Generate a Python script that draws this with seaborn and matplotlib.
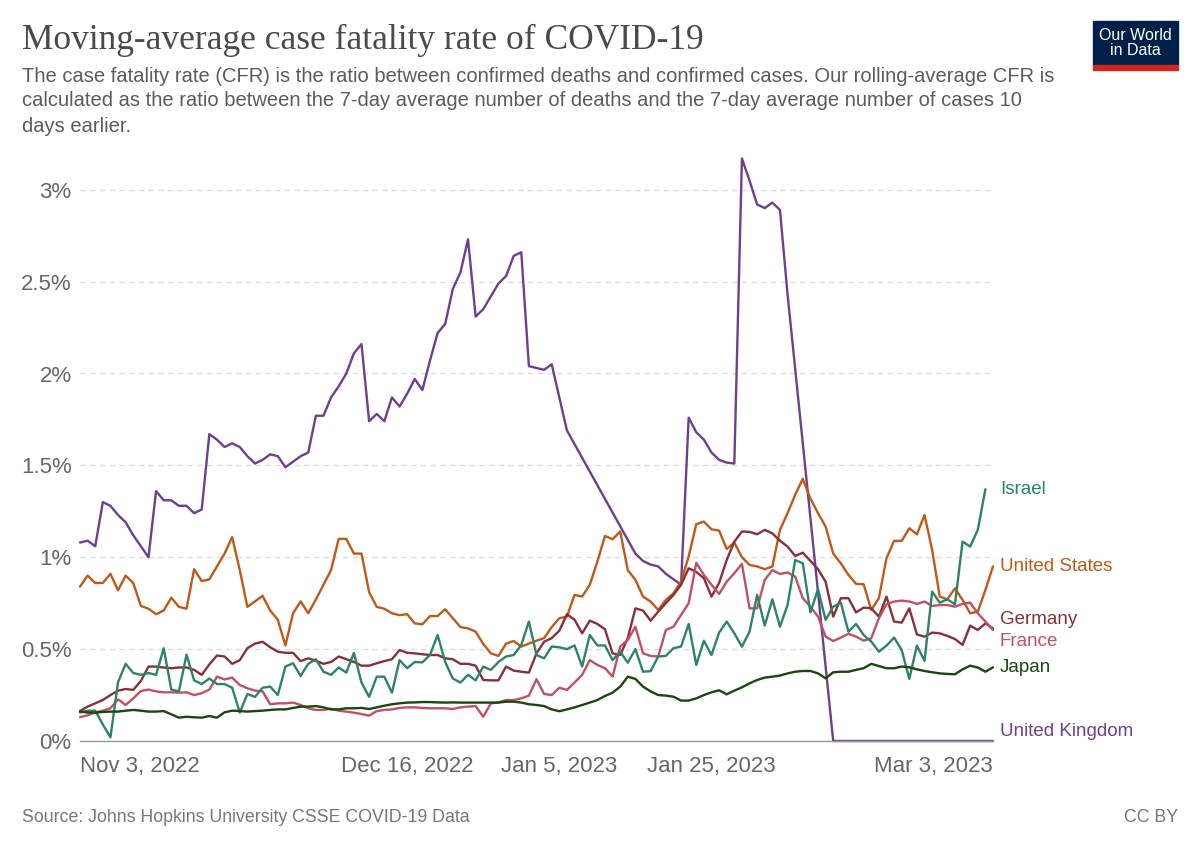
import numpy as np
import pandas as pd
import matplotlib
matplotlib.use("Agg")
import matplotlib.pyplot as plt
import matplotlib.patches as patches
import seaborn as sns

# daily values, Nov 3 2022 .. Mar 3 2023 (CFR in %)
dates = pd.date_range("2022-11-03", "2023-03-03", freq="D")
nan = np.nan

uk = [1.08, 1.09, 1.06, 1.30, 1.28, 1.23, 1.19, 1.12, 1.06, 1.00,
      1.36, 1.31, 1.31, 1.28, 1.28, 1.24, 1.26, 1.67, 1.64, 1.60,
      1.62, 1.60, 1.55, 1.51, 1.53, 1.56, 1.55, 1.49, 1.52, 1.55,
      1.57, 1.77, 1.77, 1.87, 1.93, 2.00, 2.11, 2.16, 1.74, 1.78,
      1.74, 1.87, 1.82, 1.89, 1.97, 1.91, 2.07, 2.22, 2.27, 2.46,
      2.55, 2.73, 2.31, 2.35, 2.42, 2.49, 2.53, 2.64, 2.66, 2.04,
      2.03, 2.02, 2.05, 1.87, 1.69, nan, nan, nan, nan, nan,
      nan, nan, nan, 1.02, 0.98, 0.96, 0.95, 0.91, 0.88, 0.85,
      1.76, 1.68, 1.64, 1.57, 1.53, 1.515, 1.51, 3.17, 3.05, 2.92,
      2.90, 2.93, 2.89, 2.43, nan, nan, nan, nan, nan, 0.0,
      0.0, 0.0, 0.0, 0.0, 0.0, 0.0, 0.0, 0.0, 0.0, 0.0,
      0.0, 0.0, 0.0, 0.0, 0.0, 0.0, 0.0, 0.0, 0.0, 0.0,
      0.0]

us = [0.84, 0.90, 0.86, 0.86, 0.91, 0.82, 0.90, 0.86, 0.735, 0.72,
      0.69, 0.71, 0.78, 0.73, 0.72, 0.935, 0.87, 0.88, 0.95, 1.02,
      1.11, 0.93, 0.73, 0.76, 0.79, 0.71, 0.66, 0.52, 0.695, 0.76,
      0.695, 0.77, 0.85, 0.93, 1.10, 1.10, 1.02, 1.02, 0.81, 0.73,
      0.72, 0.695, 0.685, 0.69, 0.64, 0.635, 0.68, 0.68, 0.717, 0.668,
      0.62, 0.613, 0.595, 0.528, 0.477, 0.463, 0.53, 0.544, 0.514, 0.53,
      0.546, 0.56, 0.62, 0.668, 0.677, 0.795, 0.786, 0.85, 0.976, 1.116,
      1.098, 1.14, 0.93, 0.877, 0.786, 0.759, 0.713, 0.768, 0.804, 0.867,
      1.004, 1.18, 1.194, 1.152, 1.145, 1.045, 1.08, 1.00, 0.958, 0.95,
      0.935, 0.95, 1.149, 1.24, 1.34, 1.427, 1.32, 1.24, 1.167, 1.02,
      0.967, 0.904, 0.855, 0.853, 0.713, 0.777, 0.995, 1.089, 1.089, 1.158,
      1.125, 1.23, 1.04, 0.786, 0.771, 0.831, 0.768, 0.695, 0.704, 0.822,
      0.95]

germany = [0.163, 0.187, 0.205, 0.223, 0.25, 0.274, 0.283, 0.278, 0.327, 0.405,
           0.405, 0.40, 0.396, 0.40, 0.40, 0.387, 0.36, 0.417, 0.465, 0.46,
           0.42, 0.44, 0.505, 0.53, 0.54, 0.51, 0.486, 0.48, 0.48, 0.435,
           0.45, 0.437, 0.42, 0.43, 0.46, 0.445, 0.43, 0.41, 0.41, 0.423,
           0.435, 0.445, 0.495, 0.48, 0.477, 0.472, 0.468, 0.468, 0.45, 0.445,
           0.42, 0.42, 0.41, 0.332, 0.33, 0.33, 0.405, 0.383, 0.377, 0.372,
           0.477, 0.54, 0.56, 0.60, 0.69, 0.66, 0.586, 0.655, 0.637, 0.608,
           0.477, 0.468, 0.56, 0.722, 0.71, 0.655, 0.704, 0.75, 0.795, 0.85,
           0.94, 0.92, 0.886, 0.786, 0.86, 0.985, 1.085, 1.14, 1.138, 1.125,
           1.149, 1.13, 1.09, 1.058, 1.007, 1.025, 0.98, 0.935, 0.867, 0.677,
           0.777, 0.777, 0.70, 0.726, 0.722, 0.677, 0.786, 0.65, 0.644, 0.722,
           0.58, 0.568, 0.59, 0.586, 0.572, 0.555, 0.523, 0.628, 0.604, 0.64,
           0.613]

france = [0.13, 0.14, 0.155, 0.165, 0.178, 0.227, 0.196, 0.232, 0.272, 0.28,
          0.27, 0.265, 0.265, 0.263, 0.265, 0.25, 0.26, 0.28, 0.35, 0.335,
          0.345, 0.305, 0.287, 0.274, 0.27, 0.20, 0.205, 0.205, 0.209, 0.196,
          0.178, 0.169, 0.169, 0.176, 0.165, 0.16, 0.154, 0.147, 0.138, 0.163,
          0.169, 0.172, 0.18, 0.183, 0.183, 0.18, 0.178, 0.178, 0.178, 0.174,
          0.183, 0.187, 0.19, 0.132, 0.205, 0.21, 0.223, 0.223, 0.232, 0.247,
          0.336, 0.256, 0.25, 0.29, 0.278, 0.318, 0.36, 0.44, 0.414, 0.396,
          0.35, 0.514, 0.55, 0.622, 0.477, 0.463, 0.46, 0.604, 0.622, 0.686,
          0.75, 0.97, 0.904, 0.85, 0.80, 0.867, 0.913, 0.964, 0.722, 0.722,
          0.877, 0.93, 0.909, 0.917, 0.895, 0.777, 0.731, 0.677, 0.568, 0.544,
          0.563, 0.583, 0.568, 0.546, 0.559, 0.668, 0.744, 0.759, 0.764, 0.759,
          0.746, 0.759, 0.735, 0.74, 0.74, 0.731, 0.746, 0.753, 0.695, 0.65,
          0.604]

israel = [0.155, 0.165, 0.165, 0.09, 0.02, 0.32, 0.42, 0.37, 0.36, 0.37,
          0.36, 0.505, 0.28, 0.27, 0.47, 0.33, 0.31, 0.34, 0.31, 0.31,
          0.29, 0.155, 0.256, 0.24, 0.29, 0.296, 0.25, 0.405, 0.423, 0.354,
          0.42, 0.445, 0.377, 0.36, 0.40, 0.372, 0.48, 0.318, 0.24, 0.35,
          0.35, 0.263, 0.44, 0.396, 0.43, 0.428, 0.468, 0.577, 0.43, 0.34,
          0.318, 0.36, 0.33, 0.405, 0.387, 0.43, 0.46, 0.468, 0.523, 0.65,
          0.468, 0.45, 0.514, 0.51, 0.50, 0.52, 0.405, 0.577, 0.52, 0.52,
          0.44, 0.486, 0.426, 0.50, 0.377, 0.38, 0.46, 0.463, 0.505, 0.514,
          0.637, 0.414, 0.546, 0.468, 0.59, 0.65, 0.586, 0.513, 0.595, 0.795,
          0.628, 0.771, 0.622, 0.74, 0.985, 0.967, 0.70, 0.826, 0.659, 0.731,
          0.753, 0.595, 0.637, 0.577, 0.541, 0.486, 0.519, 0.563, 0.495, 0.338,
          0.519, 0.436, 0.813, 0.753, 0.771, 0.744, 1.085, 1.058, 1.149, 1.37,
          nan]

japan = [0.16, 0.155, 0.155, 0.158, 0.16, 0.16, 0.165, 0.169, 0.165, 0.16,
         0.16, 0.163, 0.145, 0.127, 0.132, 0.129, 0.127, 0.136, 0.127, 0.156,
         0.165, 0.163, 0.16, 0.163, 0.165, 0.169, 0.172, 0.172, 0.18, 0.187,
         0.187, 0.19, 0.183, 0.172, 0.172, 0.178, 0.178, 0.18, 0.174, 0.183,
         0.192, 0.20, 0.205, 0.209, 0.21, 0.212, 0.212, 0.21, 0.209, 0.21,
         0.209, 0.209, 0.209, 0.209, 0.209, 0.209, 0.214, 0.214, 0.209, 0.20,
         0.196, 0.19, 0.172, 0.162, 0.172, 0.183, 0.196, 0.209, 0.223, 0.245,
         0.263, 0.296, 0.35, 0.338, 0.296, 0.27, 0.25, 0.247, 0.241, 0.22,
         0.22, 0.232, 0.25, 0.265, 0.276, 0.254, 0.274, 0.292, 0.314, 0.332,
         0.345, 0.35, 0.356, 0.368, 0.377, 0.381, 0.381, 0.368, 0.341, 0.374,
         0.377, 0.377, 0.387, 0.396, 0.42, 0.408, 0.396, 0.396, 0.405, 0.401,
         0.39, 0.381, 0.374, 0.368, 0.365, 0.363, 0.39, 0.41, 0.40, 0.377,
         0.401]

countries = ["United Kingdom", "United States", "Germany", "France", "Israel", "Japan"]
series = [uk, us, germany, france, israel, japan]
colors = {
    "United Kingdom": "#6D3E91",
    "United States": "#C05917",
    "Germany": "#883039",
    "France": "#C15065",
    "Israel": "#2C8465",
    "Japan": "#18470F",
}
# label nudges (in % units) so end labels do not collide
label_nudge = {"Germany": 0.05, "France": -0.06, "United Kingdom": 0.05}

frames = []
for name, vals in zip(countries, series):
    frames.append(pd.DataFrame({"date": dates, "cfr": vals, "country": name}))
df = pd.concat(frames).dropna()

sns.set_style("white")
plt.rcParams["font.family"] = ["Liberation Sans", "DejaVu Sans"]

fig = plt.figure(figsize=(12, 8.47), dpi=100)
ax = fig.add_axes([80 / 1200, 1 - 741 / 847, 913 / 1200, (741 - 153) / 847])

sns.lineplot(data=df, x="date", y="cfr", hue="country", hue_order=countries,
             palette=colors, linewidth=1.7, estimator=None, legend=False,
             ax=ax, clip_on=False)

ax.set_xlim(dates[0], dates[-1])
ax.set_ylim(0, 3.2)

yt = [0, 0.5, 1, 1.5, 2, 2.5, 3]
ax.set_yticks(yt)
ax.set_yticklabels([f"{v:g}%" for v in yt])
ax.yaxis.grid(True, linestyle=(0, (4, 3)), color="#dddddd", linewidth=1)
ax.tick_params(axis="y", length=0, pad=6, labelsize=16, labelcolor="#666666")

xt = pd.to_datetime(["2022-11-03", "2022-12-16", "2023-01-05", "2023-01-25", "2023-03-03"])
xl = ["Nov 3, 2022", "Dec 16, 2022", "Jan 5, 2023", "Jan 25, 2023", "Mar 3, 2023"]
ax.set_xticks(xt)
ax.set_xticklabels(xl)
ax.tick_params(axis="x", length=5, color="#999999", pad=5.5, labelsize=16, labelcolor="#666666")
labels = ax.get_xticklabels()
labels[0].set_ha("left")
labels[-1].set_ha("right")

ax.set_xlabel("")
ax.set_ylabel("")
for s in ["top", "right", "left"]:
    ax.spines[s].set_visible(False)
ax.spines["bottom"].set_color("#999999")
ax.spines["bottom"].set_linewidth(1)

# end-of-line labels
for name, vals in zip(countries, series):
    last = pd.Series(vals, index=dates).dropna()
    y = last.iloc[-1] + label_nudge.get(name, 0)
    ax.annotate(name, xy=(1, y), xycoords=("axes fraction", "data"),
                xytext=(5, 0), textcoords="offset points", va="center",
                fontsize=13.5, color=colors[name])

# header
fig.text(22 / 1200, 1 - 40 / 847, "Moving-average case fatality rate of COVID-19",
         family="Liberation Serif", fontsize=25.5, color="#4a4a4a", va="center")
sub = ["The case fatality rate (CFR) is the ratio between confirmed deaths and confirmed cases. Our rolling-average CFR is",
       "calculated as the ratio between the 7-day average number of deaths and the 7-day average number of cases 10",
       "days earlier."]
for i, line in enumerate(sub):
    fig.text(22 / 1200, 1 - (76 + 25 * i) / 847, line, fontsize=14.5,
             color="#5b5b5b", va="center")

# logo
fig.patches.append(patches.Rectangle((1093 / 1200, 1 - 65 / 847), 85 / 1200, 44 / 847,
                                     transform=fig.transFigure, color="#002147"))
fig.patches.append(patches.Rectangle((1093 / 1200, 1 - 70 / 847), 85 / 1200, 5 / 847,
                                     transform=fig.transFigure, color="#CE261E"))
fig.text(1135.5 / 1200, 1 - 43 / 847, "Our World\nin Data", ha="center", va="center",
         fontsize=11.5, color="white", linespacing=0.95)

# footer
fig.text(22 / 1200, 1 - 817 / 847, "Source: Johns Hopkins University CSSE COVID-19 Data",
         fontsize=12.8, color="#777777", va="center")
fig.text(1178 / 1200, 1 - 817 / 847, "CC BY", fontsize=12.8, color="#777777",
         va="center", ha="right")

fig.savefig("out.png", dpi=100, facecolor="white")
